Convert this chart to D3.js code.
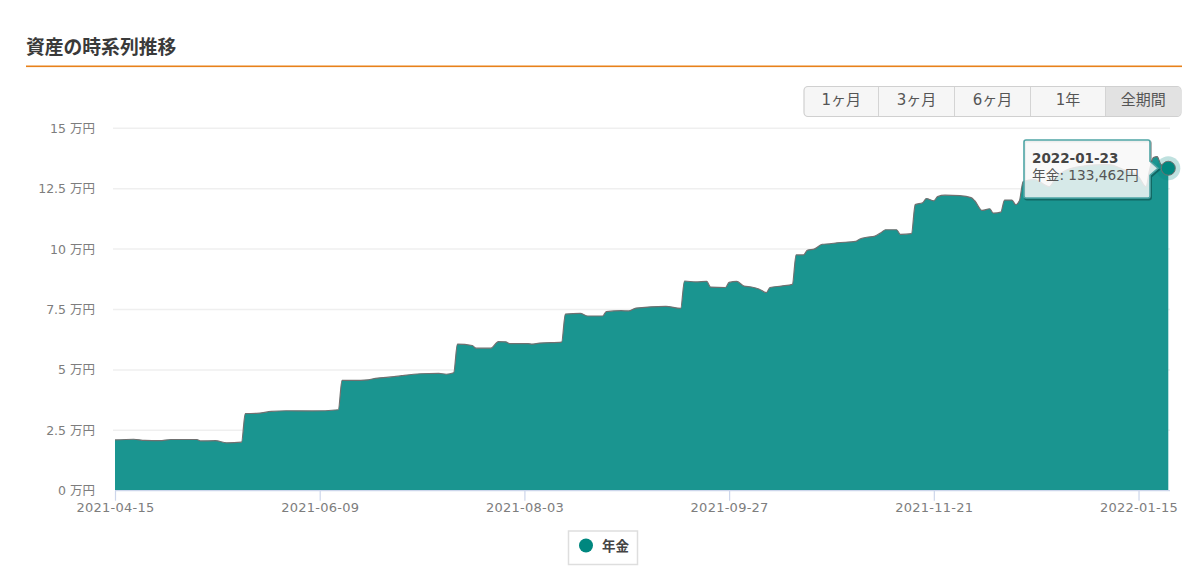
<!DOCTYPE html>
<html lang="ja">
<head>
<meta charset="utf-8">
<script src="https://cdn.jsdelivr.net/npm/d3@7/dist/d3.min.js"></script>
<style>
html, body { margin: 0; padding: 0; background: #fff; }
svg { display: block; font-family: "DejaVu Sans", "Noto Sans CJK JP", sans-serif; }
</style>
</head>
<body>
<svg id="chart" width="1200" height="574"></svg>
<script>
var startDate = new Date(Date.UTC(2021, 3, 15));
var labelFont = '"DejaVu Sans", "Noto Sans CJK JP", sans-serif';

// days since startDate
var dayOffsets = [
	0, 5, 8, 12, 15, 22, 23, 27, 30, 34, 35, 38, 42, 46, 53, 60, 61,
	66, 68, 70, 75, 77, 82, 87, 89, 91, 92, 96, 97, 101, 103, 105, 106,
	111, 112, 114, 120, 121, 125, 127, 131, 132, 136, 138, 140, 148, 152, 153,
	156, 159, 160, 164, 165, 167, 169, 171, 173, 175, 176, 179, 182, 183, 185,
	186, 188, 190, 192, 194, 199, 200, 202, 204, 206, 207, 210, 211, 214, 215,
	217, 218, 220, 221, 223, 227, 230, 231, 233, 235, 236, 238, 239, 241, 242,
	243, 244, 247, 251, 253, 258, 265, 267, 271, 275, 277, 278, 279, 280, 281, 283
];

// 年金, in 万円
var pensionValues = [
	2.10, 2.13, 2.08, 2.07, 2.12, 2.12, 2.06, 2.07, 1.98, 2.01, 3.19, 3.20, 3.28, 3.31, 3.30, 3.35, 4.57,
	4.57, 4.59, 4.65, 4.72, 4.76, 4.84, 4.86, 4.82, 4.88, 6.07, 6.01, 5.90, 5.90, 6.17, 6.16, 6.09,
	6.09, 6.07, 6.11, 6.15, 7.31, 7.34, 7.23, 7.23, 7.41, 7.45, 7.44, 7.56, 7.63, 7.55, 8.68,
	8.64, 8.66, 8.43, 8.41, 8.62, 8.66, 8.47, 8.43, 8.35, 8.20, 8.41, 8.47, 8.54, 9.76, 9.76,
	9.95, 10.01, 10.20, 10.22, 10.26, 10.32, 10.41, 10.49, 10.53, 10.70, 10.80, 10.80, 10.61, 10.64, 11.84,
	11.92, 12.09, 12.00, 12.17, 12.23, 12.21, 12.13, 12.00, 11.60, 11.67, 11.49, 11.53, 12.03, 12.03, 11.84,
	12.00, 12.80, 12.88, 12.59, 13.00, 13.38, 13.50, 13.50, 13.29, 13.00, 12.59, 13.30, 13.79, 13.83, 13.50, 13.3462
];

var yTicks = [0, 2.5, 5, 7.5, 10, 12.5, 15];
var xTickLabels = ['2021-04-15', '2021-06-09', '2021-08-03', '2021-09-27', '2021-11-21', '2022-01-15'];
var rangeButtons = ['1ヶ月', '3ヶ月', '6ヶ月', '1年', '全期間'];
var buttonEdges = [804, 878.5, 954.5, 1030.5, 1105.5, 1181];

var colors = {
	area: '#1a9590',
	line: '#707070',
	marker: '#00877f',
	teal: '#4fa5a5',
	orange: '#e8811a',
	axis: '#ccd6eb',
	grid: '#efefef',
	label: '#7d7d7d'
};

var parseDate = d3.utcParse('%Y-%m-%d');
var formatDate = d3.utcFormat('%Y-%m-%d');

var data = dayOffsets.map(function(d, i) {
	return {date: d3.utcDay.offset(startDate, d), value: pensionValues[i]};
});

var svg = d3.select('#chart');

var x = d3.scaleUtc()
	.domain([startDate, data[data.length - 1].date])
	.range([115, 1168.3]);
var y = d3.scaleLinear().domain([0, 15]).range([490.7, 128.3]);

// ================================= header ================================
svg.append('text')
	.attr('x', 26).attr('y', 54)
	.attr('font-family', '"Noto Sans CJK JP", sans-serif')
	.attr('font-size', 18.8).attr('font-weight', 700)
	.attr('fill', '#3a3a3a')
	.text('資産の時系列推移');

svg.append('rect')
	.attr('x', 26).attr('y', 65.5).attr('width', 1156).attr('height', 1.6)
	.attr('fill', colors.orange);

// ================================= buttons ================================
svg.append('rect')
	.attr('x', 804).attr('y', 86.5).attr('width', 377).attr('height', 30).attr('rx', 4)
	.attr('fill', '#f6f6f6').attr('stroke', '#d0d0d0').attr('stroke-width', 1.2);

var button = svg.selectAll('g.btn').data(rangeButtons).enter().append('g').attr('class', 'btn');

button.filter(function(d, i) { return i === rangeButtons.length - 1; })
	.append('path')
	.attr('d', 'M1105.5,87 H1177 a4,4 0 0 1 4,4 V112 a4,4 0 0 1 -4,4 H1105.5 Z')
	.attr('fill', '#e2e2e2');

button.filter(function(d, i) { return i > 0; })
	.append('line')
	.attr('x1', function(d, i) { return buttonEdges[i + 1]; })
	.attr('x2', function(d, i) { return buttonEdges[i + 1]; })
	.attr('y1', 87).attr('y2', 116)
	.attr('stroke', '#d4d4d4');

button.append('text')
	.attr('x', function(d, i) { return (buttonEdges[i] + buttonEdges[i + 1]) / 2; })
	.attr('y', 105)
	.attr('text-anchor', 'middle')
	.attr('font-size', 15)
	.attr('fill', '#555')
	.text(function(d) { return d; });

// ================================= axes ================================
var yAxis = svg.append('g')
	.attr('transform', 'translate(113,0)')
	.call(d3.axisLeft(y)
		.tickValues(yTicks)
		.tickSize(0)
		.tickPadding(18)
		.tickFormat(function(d) { return d + ' 万円'; }));
yAxis.select('.domain').remove();
yAxis.selectAll('text')
	.attr('font-size', 12.5)
	.attr('font-family', labelFont)
	.attr('fill', colors.label);

svg.append('g').selectAll('line').data(yTicks.slice(1)).enter().append('line')
	.attr('x1', 113).attr('x2', 1170)
	.attr('y1', function(d) { return y(d); })
	.attr('y2', function(d) { return y(d); })
	.attr('stroke', colors.grid)
	.attr('stroke-width', 1.5);

// ================================= series ================================
var area = d3.area()
	.curve(d3.curveMonotoneX)
	.x(function(d) { return x(d.date); })
	.y0(y(0))
	.y1(function(d) { return y(d.value); });

var line = d3.line()
	.curve(d3.curveMonotoneX)
	.x(function(d) { return x(d.date); })
	.y(function(d) { return y(d.value); });

svg.append('path').datum(data).attr('d', area).attr('fill', colors.area);
svg.append('path').datum(data).attr('d', line)
	.attr('fill', 'none')
	.attr('stroke', colors.line)
	.attr('stroke-width', 1.2);

var xAxis = svg.append('g')
	.attr('transform', 'translate(0,' + y(0) + ')')
	.call(d3.axisBottom(x)
		.tickValues(xTickLabels.map(parseDate))
		.tickSize(10)
		.tickPadding(2)
		.tickFormat(formatDate));
xAxis.select('.domain')
	.attr('d', 'M115,0H1170')
	.attr('stroke', colors.axis)
	.attr('stroke-width', 1.2);
xAxis.selectAll('line').attr('stroke', colors.axis).attr('stroke-width', 1.2);
xAxis.selectAll('text')
	.attr('font-size', 13)
	.attr('letter-spacing', 0.25)
	.attr('font-family', labelFont)
	.attr('fill', colors.label);

// ================================= hover marker + tooltip ================================
var lastPoint = data[data.length - 1];
var mx = x(lastPoint.date);
var my = y(lastPoint.value);

svg.append('circle').attr('cx', mx).attr('cy', my).attr('r', 12)
	.attr('fill', colors.marker).attr('fill-opacity', 0.25);
svg.append('circle').attr('cx', mx).attr('cy', my).attr('r', 7)
	.attr('fill', colors.marker).attr('stroke', colors.line).attr('stroke-width', 1);

var tipPath = 'M1026,140 H1148 a2,2 0 0 1 2,2 V' + (my - 7) + ' L1158,' + my + ' L1150,' + (my + 7) +
	' V196 a2,2 0 0 1 -2,2 H1026 a2,2 0 0 1 -2,-2 V142 a2,2 0 0 1 2,-2 Z';

svg.append('path')
	.attr('d', tipPath)
	.attr('transform', 'translate(1,1.5)')
	.attr('fill', 'none')
	.attr('stroke', '#000')
	.attr('stroke-opacity', 0.3)
	.attr('stroke-width', 2);
svg.append('path')
	.attr('d', tipPath)
	.attr('fill', '#f8f8f8')
	.attr('fill-opacity', 0.85)
	.attr('stroke', colors.teal)
	.attr('stroke-width', 1.6);

svg.append('text')
	.attr('x', 1032).attr('y', 163)
	.attr('font-size', 13.5).attr('font-weight', 700)
	.attr('fill', '#444')
	.text(formatDate(lastPoint.date));
svg.append('text')
	.attr('x', 1032).attr('y', 180)
	.attr('font-size', 13.7)
	.attr('fill', '#555')
	.text('年金: ' + d3.format(',')(Math.round(lastPoint.value * 10000)) + '円');

// ================================= legend ================================
svg.append('rect')
	.attr('x', 568.5).attr('y', 531).attr('width', 69).attr('height', 33.5)
	.attr('fill', '#fff').attr('stroke', '#dedede').attr('stroke-width', 1.5);
svg.append('circle').attr('cx', 586).attr('cy', 545.5).attr('r', 7).attr('fill', colors.marker);
svg.append('text')
	.attr('x', 602).attr('y', 551)
	.attr('font-family', '"Noto Sans CJK JP", sans-serif')
	.attr('font-size', 13.5).attr('font-weight', 700)
	.attr('fill', '#444')
	.text('年金');
</script>
</body>
</html>
